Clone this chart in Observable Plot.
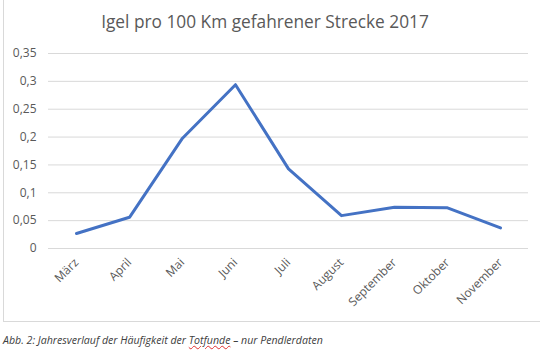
<!DOCTYPE html>
<html>
<head>
<meta charset="utf-8">
<script src="https://cdn.jsdelivr.net/npm/d3@7"></script>
<script src="https://cdn.jsdelivr.net/npm/@observablehq/plot@0.6"></script>
<style>
  body { margin: 0; background: #fff; font-family: "Open Sans", sans-serif; }
  #wrap { position: relative; width: 540px; height: 356px; overflow: hidden; }
  #frame { position: absolute; left: 3px; top: -1px; width: 545px; height: 323px; border: 1px solid #d9d9d9; box-sizing: border-box; }
  #title { position: absolute; left: 0; width: 530px; top: 10px; text-align: center; font-size: 17.3px; color: #595959; }
  #chart { position: absolute; left: 0; top: 0; }
  #caption { position: absolute; left: 3px; top: 333px; font-size: 10.6px; font-style: italic; color: #404040; }
  .sp { text-decoration: underline wavy #e03030; text-decoration-thickness: 1px; }
</style>
</head>
<body>
<div id="wrap">
  <div id="frame"></div>
  <div id="chart"></div>
  <div id="title">Igel pro 100 Km gefahrener Strecke 2017</div>
  <div id="caption">Abb. 2: Jahresverlauf der Häufigkeit der <span class="sp">Totfunde</span> – nur Pendlerdaten</div>
</div>
<script>
const months = ["März", "April", "Mai", "Juni", "Juli", "August", "September", "Oktober", "November"];
const values = [0.027, 0.056, 0.198, 0.294, 0.143, 0.059, 0.074, 0.073, 0.037];
const yTicks = [0, 0.05, 0.1, 0.15, 0.2, 0.25, 0.3, 0.35];

const data = months.map((m, i) => ({month: m, value: values[i]}));

const chart = Plot.plot({
  width: 540,
  height: 322,
  marginLeft: 48,
  marginRight: 12,
  marginTop: 53,
  marginBottom: 74,
  style: {fontFamily: "Open Sans, sans-serif", fontSize: "12px", color: "#595959", background: "transparent"},
  x: {type: "point", domain: months, padding: 0.5, label: null},
  y: {domain: [0, 0.35], label: null},
  marks: [
    Plot.gridY(yTicks, {stroke: "#d9d9d9", strokeOpacity: 1, strokeWidth: 1}),
    Plot.axisY(yTicks, {tickSize: 0, tickPadding: 12, tickFormat: d => String(d).replace(".", ","), label: null, fill: "#595959"}),
    Plot.axisX({tickSize: 0, tickRotate: -45, tickPadding: 12, label: null, fill: "#595959"}),
    Plot.line(data, {x: "month", y: "value", stroke: "#4472c4", strokeWidth: 3, strokeLinejoin: "round", strokeLinecap: "round"})
  ]
});
document.getElementById("chart").appendChild(chart);
</script>
</body>
</html>
